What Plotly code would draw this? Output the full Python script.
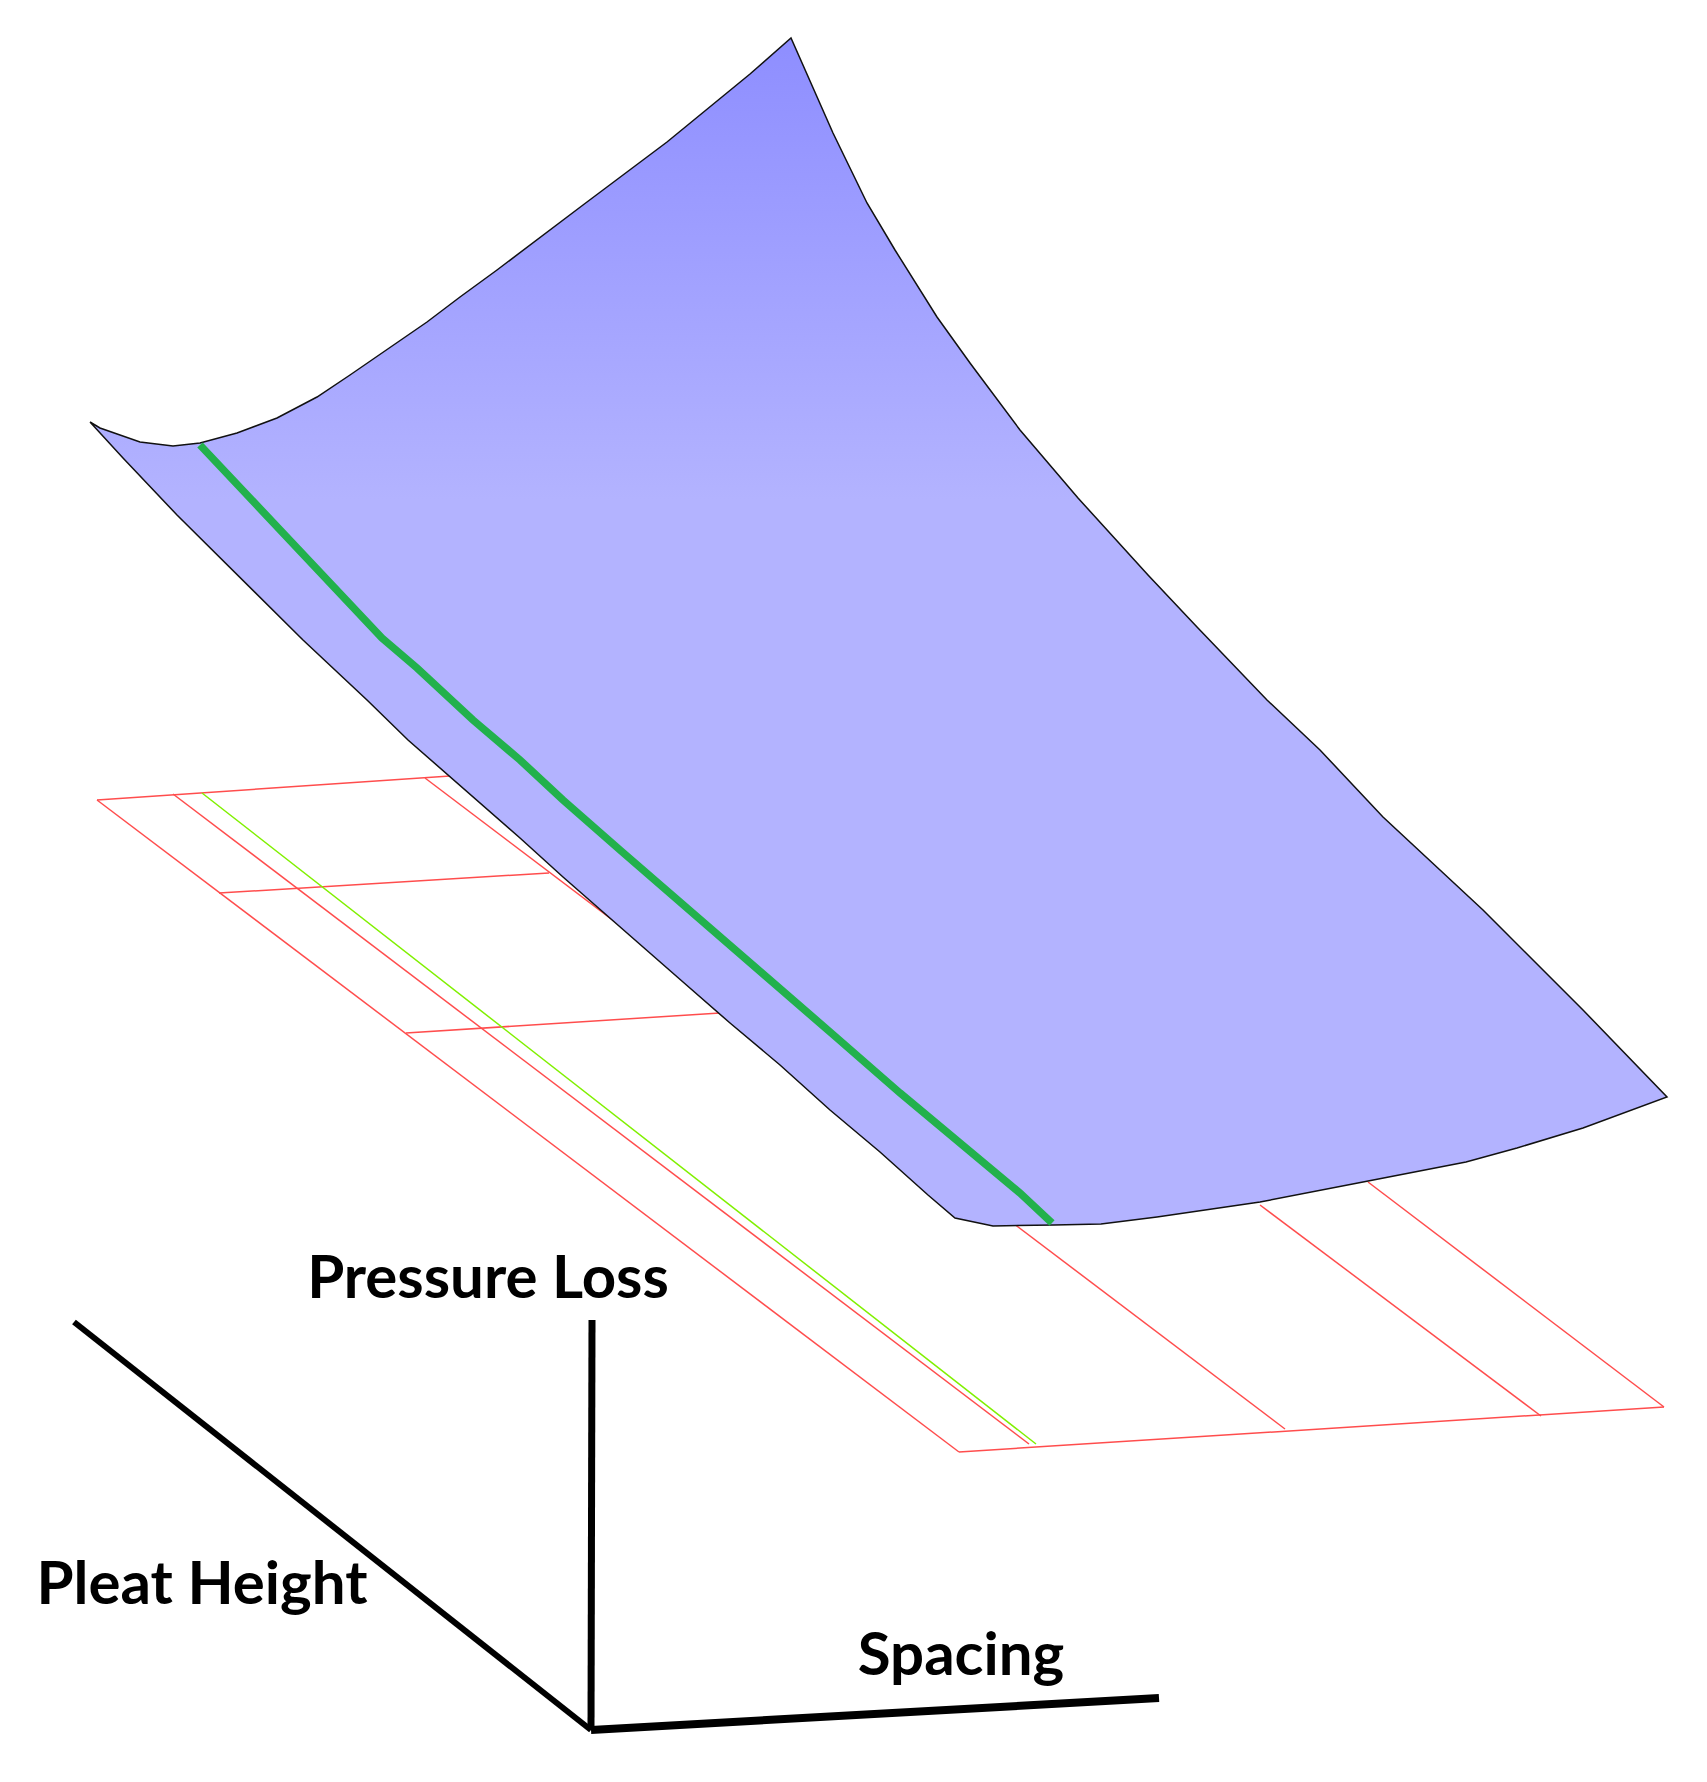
# %% imports
import plotly.graph_objects as go

# %% data (x to the right, y downwards)
surface_x = [90, 100, 140, 173, 200, 237, 277, 317, 350, 390, 427, 460, 497, 583, 667, 750, 791,
             833, 867, 895, 937, 970, 1020, 1078, 1148, 1197, 1267, 1320, 1383, 1483, 1583, 1667,
             1583, 1517, 1466, 1363, 1260, 1157, 1101, 1054, 993, 955,
             928, 880, 830, 780, 730, 683, 635, 563, 520, 480, 448, 408, 367, 303, 177, 123, 90]
surface_y = [422, 428, 442, 446, 443, 433, 418, 397, 375, 347, 322, 297, 270, 205, 142, 74, 38,
             133, 203, 250, 317, 363, 430, 498, 575, 627, 700, 750, 817, 910, 1010, 1097,
             1128, 1148, 1162, 1182, 1202, 1217, 1224, 1225, 1226, 1218,
             1195, 1152, 1110, 1065, 1023, 982, 940, 877, 838, 803, 775, 740, 700, 640, 515, 458, 422]

ridge_x = [200, 293, 333, 382, 417, 473, 520, 563, 620, 677, 727, 773, 837, 900, 967, 1020, 1052]
ridge_y = [445, 545, 588, 638, 668, 720, 760, 800, 850, 900, 943, 983, 1038, 1093, 1148, 1193, 1223]

# grid on the floor, [start, end] of every line
grid_lines = {
    "back": ([97, 450], [800, 776]),
    "row2": ([219, 549], [893, 873]),
    "row3": ([406, 720], [1033, 1013]),
    "front": ([959, 1664], [1452, 1407]),
    "col1": ([97, 959], [800, 1452]),
    "col2": ([173, 1029], [794, 1444]),
    "col3": ([425, 1285], [778, 1429]),
    "col4": ([1260, 1541], [1205, 1416]),
    "col5": ([1368, 1664], [1182, 1407]),
}
floor_mark_x = [202, 1036]
floor_mark_y = [793, 1444]

axis_origin = [591, 1730]
axis_ends_x = [74, 592, 1159]
axis_ends_y = [1322, 1320, 1698]
axis_widths = [6, 7, 8]

label_text = ["Pressure Loss", "Pleat Height", "Spacing"]
label_x = [488, 202, 961]
label_y = [1283, 1589, 1660]

# %% figure
fig = go.Figure()

for name, (xs, ys) in grid_lines.items():
    fig.add_trace(go.Scatter(x=xs, y=ys, mode="lines", name=name,
                             line=dict(color="#FF4D4D", width=1.5)))

fig.add_trace(go.Scatter(x=floor_mark_x, y=floor_mark_y, mode="lines",
                         line=dict(color="#80F000", width=1.5)))

fig.add_trace(go.Scatter(
    x=surface_x, y=surface_y, mode="lines", fill="toself",
    line=dict(color="#111111", width=1.5),
    fillgradient=dict(type="vertical", start=38, stop=500,
                      colorscale=[[0, "#8E8EFF"], [1, "#B3B3FF"]]),
))

fig.add_trace(go.Scatter(x=ridge_x, y=ridge_y, mode="lines",
                         line=dict(color="#22B14C", width=7.5)))

for i in range(3):
    fig.add_trace(go.Scatter(
        x=[axis_origin[0], axis_ends_x[i]], y=[axis_origin[1], axis_ends_y[i]],
        mode="lines", line=dict(color="black", width=axis_widths[i])))

fig.add_trace(go.Scatter(
    x=label_x, y=label_y, mode="text", text=label_text,
    textposition="middle center",
    textfont=dict(family="Lato", size=60, color="black", weight=700)))

fig.update_layout(
    width=1707, height=1782, showlegend=False,
    margin=dict(l=0, r=0, t=0, b=0),
    paper_bgcolor="white", plot_bgcolor="white",
    xaxis=dict(range=[0, 1707], visible=False),
    yaxis=dict(range=[1782, 0], visible=False),
)

fig.write_html("out.html", config={"displayModeBar": False},
               post_script="document.body.style.margin='0';")
